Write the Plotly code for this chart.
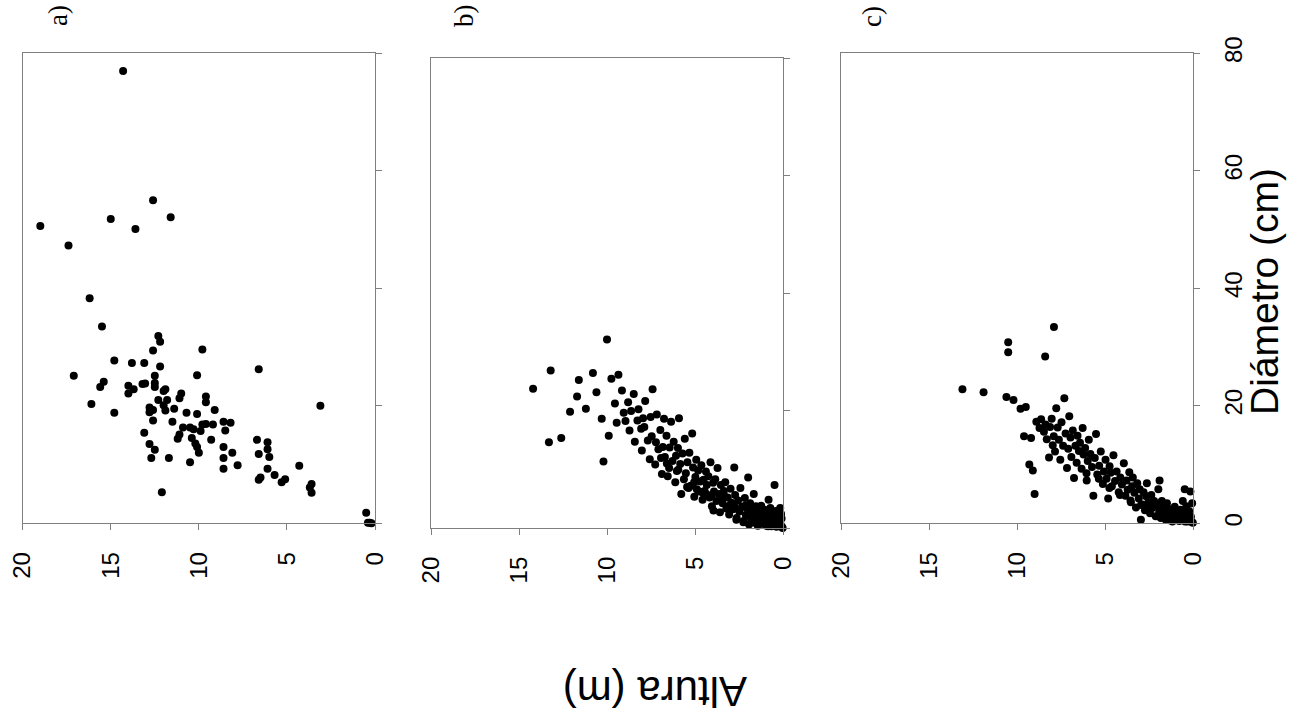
import plotly.graph_objects as go

W, H = 1310, 724

# ---------------- data: (Altura m, Diámetro cm) ----------------
a_altura = [14.3, 19.0, 17.4, 15.0, 12.6, 11.6, 13.6, 16.2, 15.5, 17.1, 14.8, 13.8, 13.1, 12.6,
            12.3, 12.2, 9.8, 12.2, 12.5, 10.1, 6.6, 3.1, 15.4, 15.6, 16.1, 14.8, 14.0, 14.0,
            13.7, 13.2, 13.05, 12.5, 12.5, 12.0, 11.9, 12.3, 11.8, 12.0, 11.9, 12.8, 12.6, 12.8,
            11.4, 11.1, 11.0, 10.7, 10.1, 9.6, 9.6, 9.1, 12.6, 11.5, 13.1, 10.9, 11.1, 11.2,
            10.5, 10.3, 10.4, 9.9, 9.8, 9.6, 9.2, 8.6, 8.2, 8.5, 9.3, 10.2, 10.1, 10.0, 10.5,
            12.8, 12.5, 12.7, 11.7, 12.1, 8.6, 8.1, 8.6, 8.6, 7.8, 6.7, 6.1, 6.1, 6.0, 6.6,
            6.1, 6.5, 6.6, 5.7, 5.3, 5.1, 4.3, 3.6, 3.7, 3.6, 0.5, 0.4, 0.2, 0.3]
a_diametro = [77.0, 50.6, 47.3, 51.8, 55.0, 52.1, 50.1, 38.3, 33.5, 25.1, 27.7, 27.3, 27.3, 29.4,
              31.9, 30.9, 29.6, 26.7, 25.1, 25.2, 26.2, 20.0, 24.1, 23.2, 20.3, 18.8, 23.4, 22.1,
              22.8, 23.7, 23.8, 23.9, 23.2, 22.5, 22.8, 21.0, 21.0, 20.1, 19.2, 19.7, 19.3, 18.9,
              19.5, 21.3, 22.1, 18.8, 18.6, 21.6, 20.6, 19.3, 17.5, 17.3, 15.4, 16.3, 15.1, 14.4,
              16.3, 16.0, 14.5, 15.7, 16.8, 16.9, 16.8, 17.3, 17.1, 15.8, 14.2, 13.6, 13.0, 12.0,
              10.4, 13.5, 12.5, 11.1, 11.1, 5.3, 13.0, 12.0, 11.1, 9.3, 9.9, 14.2, 13.8, 12.6,
              11.3, 11.8, 9.3, 7.8, 7.4, 8.2, 7.0, 7.5, 9.8, 6.7, 6.1, 5.2, 1.8, 0.1, 0.0, 0.1]

b_altura = [14.2, 13.2, 13.3, 12.6, 12.1, 11.7, 11.6, 11.2, 10.8, 10.6, 10.3, 10.0, 10.2, 9.9,
            9.75, 9.55, 9.45, 9.35, 9.15, 9.05, 8.95, 8.8, 8.72, 8.63, 8.48, 8.42, 8.27, 8.21, 8.06, 8.02,
            7.95, 7.88, 7.83, 7.68, 7.57, 7.52, 7.46, 7.41, 7.26, 7.22, 7.17, 7.08, 6.97, 6.93, 6.88, 6.83,
            6.76, 6.71, 6.62, 6.55, 6.47, 6.44, 6.36, 6.28, 6.21, 6.12, 6.08, 6.03, 5.97, 5.91, 5.84, 5.78,
            5.71, 5.63, 5.58, 5.52, 5.43, 5.37, 5.32, 5.24, 5.16, 5.11, 5.04, 4.98, 4.93, 4.82, 4.77, 4.71,
            4.64, 4.57, 4.51, 4.46, 4.38, 4.33, 4.24, 4.17, 4.12, 4.04, 3.97, 3.92, 3.85, 3.78, 3.72, 3.64,
            3.58, 3.53, 3.43, 3.36, 3.28, 3.22, 3.14, 3.06, 2.98, 2.93, 2.84, 2.77, 2.72, 2.63, 2.55, 2.48,
            2.42, 2.33, 2.24, 2.17, 2.11, 2.04, 1.98, 1.93, 1.87, 1.82, 1.74, 1.66, 1.61, 1.54, 1.47, 1.43,
            1.38, 1.31, 1.24, 1.18, 1.12, 1.05, 0.98, 0.94, 0.87, 0.82, 0.76, 0.72, 0.66, 0.62, 0.57, 0.52,
            0.48, 0.45, 0.41, 0.37, 0.33, 0.28, 0.24, 0.19, 0.14, 0.11, 0.06, 0.16, 0.02, 0.31,
            5.45, 4.9, 4.35, 3.95, 3.5, 3.05, 2.65, 2.25, 1.85, 1.45, 1.15, 0.85, 0.55, 0.25,
            6.6, 5.95, 5.05, 4.55, 4.05, 3.35, 2.75, 2.15, 1.65, 1.25, 0.95, 0.65, 0.35, 0.08]
b_diametro = [23.7, 26.8, 14.6, 15.3, 19.8, 22.4, 25.2, 20.3, 26.4, 23.1, 18.6, 32.1, 11.3, 15.7,
              25.4, 21.2, 17.9, 26.1, 23.4, 19.6, 18.2, 21.4, 16.6, 19.9, 22.8, 14.7, 18.3, 20.2,
              16.9, 13.2, 18.7, 17.2, 21.6, 14.9, 11.7, 18.9, 15.6, 23.6, 10.8, 14.6, 19.3, 13.4,
              16.7, 11.9, 9.2, 13.8, 18.6, 12.1, 15.7, 8.8, 10.2, 13.7, 18.1, 11.4, 14.7, 7.8,
              12.3, 9.7, 13.6, 18.7, 10.9, 5.8, 12.7, 8.3, 15.2, 9.3, 11.2, 6.8, 12.8, 7.2,
              16.1, 10.3, 5.3, 8.7, 11.6, 9.8, 6.2, 7.9, 10.7, 4.8, 8.2, 6.3, 9.6, 7.3,
              8.8, 5.2, 11.2, 3.7, 7.7, 6.2, 8.3, 4.6, 10.2, 5.8, 2.7, 7.3, 4.2, 6.3,
              7.8, 3.3, 5.2, 2.3, 6.7, 4.3, 3.2, 10.3, 5.6, 1.7, 4.7, 2.8, 6.8, 3.6,
              1.2, 5.1, 2.2, 3.3, 8.6, 0.6, 4.2, 1.6, 2.7, 5.8, 0.9, 3.7, 2.0, 0.4,
              2.9, 1.3, 3.8, 2.1, 0.7, 3.1, 1.6, 0.4, 2.6, 4.8, 1.1, 3.4, 0.3, 1.9,
              2.5, 0.6, 7.3, 1.3, 2.9, 0.2, 1.9, 0.9, 1.4, 0.3, 0.6, 2.4, 0.2, 3.4, 0.0, 0.4,
              7.0, 6.6, 5.8, 3.0, 4.6, 3.8, 1.4, 1.0, 3.2, 2.4, 1.9, 0.3, 1.7, 1.2,
              11.0, 9.9, 7.8, 6.0, 5.4, 5.5, 3.6, 3.8, 2.8, 1.7, 2.1, 0.9, 1.0, 1.6]

c_altura = [13.1, 11.9, 10.5, 10.5, 7.9, 8.4, 10.6, 10.2, 9.8, 9.5, 9.6, 9.2, 9.3, 9.0,
            9.1, 8.9, 8.72, 8.63, 8.47, 8.38, 8.31, 8.18, 8.12, 8.03, 7.97, 7.91, 7.84, 7.77, 7.69,
            7.62, 7.54, 7.47, 7.38, 7.31, 7.24, 7.16, 7.09, 7.03, 6.96, 6.91, 6.83, 6.76, 6.68, 6.61,
            6.56, 6.48, 6.42, 6.33, 6.27, 6.22, 6.13, 6.04, 5.98, 5.92, 5.83, 5.74, 5.66, 5.58, 5.51,
            5.44, 5.33, 5.24, 5.12, 5.06, 4.97, 4.91, 4.82, 4.74, 4.68, 4.61, 4.52, 4.43, 4.34, 4.22,
            4.13, 4.04, 3.93, 3.84, 3.77, 3.71, 3.62, 3.53, 3.46, 3.42, 3.33, 3.24, 3.17, 3.08, 3.03,
            2.96, 2.88, 2.81, 2.73, 2.66, 2.62, 2.53, 2.44, 2.37, 2.32, 2.21, 2.12, 2.04, 1.97, 1.92,
            1.83, 1.77, 1.71, 1.63, 1.54, 1.48, 1.41, 1.32, 1.23, 1.17, 1.12, 1.04, 0.98, 0.91, 0.83,
            0.78, 0.71, 0.63, 0.58, 0.53, 0.47, 0.42, 0.38, 0.32, 0.27, 0.22, 0.18, 0.15, 0.12, 0.08,
            0.05, 0.01, 1.9, 6.05, 5.35, 4.75, 4.15, 3.55, 2.95, 2.45, 1.75, 1.35, 0.95, 0.45, 0.25]
c_diametro = [22.8, 22.3, 30.8, 29.1, 33.4, 28.4, 21.5, 21.0, 19.5, 19.8, 14.8, 14.5, 10.0, 5.0,
              9.0, 17.3, 16.2, 17.7, 15.6, 16.8, 14.3, 11.2, 16.4, 17.8, 13.3, 14.8, 12.2, 19.6,
              16.3, 14.2, 10.8, 17.2, 13.2, 21.3, 15.3, 9.4, 12.7, 18.2, 14.6, 11.3, 15.8, 7.7,
              13.2, 10.3, 14.9, 12.3, 13.7, 9.3, 16.2, 11.7, 12.8, 7.3, 10.6, 14.2, 11.8, 9.6,
              4.7, 11.1, 15.2, 8.3, 9.8, 12.2, 6.7, 8.8, 10.8, 7.6, 4.2, 9.7, 8.6, 6.3,
              11.6, 7.2, 8.8, 5.3, 7.8, 6.6, 10.2, 4.7, 7.3, 5.7, 8.7, 3.6, 6.3, 7.8,
              5.2, 2.7, 6.8, 4.2, 5.8, 0.6, 3.2, 5.3, 2.2, 4.6, 6.8, 3.6, 1.7, 4.8,
              2.6, 3.8, 1.2, 3.1, 5.8, 2.1, 0.9, 3.8, 1.6, 2.7, 0.6, 3.4, 1.9, 1.1,
              2.4, 0.3, 1.6, 2.8, 0.9, 2.1, 1.3, 0.4, 2.3, 1.1, 3.8, 0.6, 5.8, 1.7,
              2.9, 0.3, 1.3, 2.1, 0.7, 5.4, 1.1, 0.2, 3.4, 0.1, 7.3,
              8.5, 7.6, 6.0, 4.8, 3.9, 3.1, 2.8, 2.3, 0.5, 1.4, 0.3, 0.4]

x_ticks = [0, 5, 10, 15, 20]
y_ticks = [0, 20, 40, 60, 80]
panel_labels = ["a)", "b)", "c)"]

# ---------------- layout geometry (pixels) ----------------
panels = [  # left, right, top, bottom
    (22.7, 375.0, 53.3, 523.3),
    (431.0, 783.0, 58.0, 528.0),
    (841.0, 1193.0, 53.3, 523.3),
]
label_pos = [(58, 16), (464, 16), (872, 16)]

datasets = [(a_altura, a_diametro), (b_altura, b_diametro), (c_altura, c_diametro)]

fig = go.Figure()
AX = "#7f7f7f"
for i, ((hx, dy), (l, r, t, b)) in enumerate(zip(datasets, panels)):
    n = "" if i == 0 else str(i + 1)
    fig.add_trace(go.Scatter(
        x=hx, y=dy, mode="markers", xaxis="x" + n, yaxis="y" + n,
        marker=dict(color="black", size=8, line=dict(width=0)),
        cliponaxis=False, showlegend=False, hoverinfo="skip"))
    fig.layout["xaxis" + n] = dict(
        domain=[l / W, r / W], anchor="y" + n, range=[20, 0], automargin=False,
        tickvals=x_ticks, ticks="outside", ticklen=6, tickcolor=AX, tickwidth=1,
        showline=True, linecolor=AX, linewidth=1.3, mirror=True,
        showgrid=False, zeroline=False, tickangle=-90, ticklabelstandoff=12,
        tickfont=dict(family="Liberation Sans, Arial", size=24, color="black"))
    fig.layout["yaxis" + n] = dict(
        domain=[1 - b / H, 1 - t / H], anchor="x" + n, range=[0, 80], side="right",
        automargin=False,
        tickvals=y_ticks, ticks="outside", ticklen=6, tickcolor=AX, tickwidth=1,
        showline=True, linecolor=AX, linewidth=1.3, mirror=True,
        showgrid=False, zeroline=False, tickangle=-90, ticklabelstandoff=13,
        showticklabels=(i == 2),
        tickfont=dict(family="Liberation Sans, Arial", size=24, color="black"))
    lx, ly = label_pos[i]
    fig.add_annotation(text=panel_labels[i], x=lx / W, y=1 - ly / H, xref="paper", yref="paper",
                       showarrow=False, textangle=-90, xanchor="center", yanchor="middle",
                       font=dict(family="Liberation Serif, Times New Roman", size=27, color="black"))

fig.add_annotation(text="Altura (m)", x=655 / W, y=1 - 692 / H, xref="paper", yref="paper",
                   showarrow=False, textangle=180, xanchor="center", yanchor="middle",
                   font=dict(family="Liberation Sans, Arial", size=42, color="black"))
fig.add_annotation(text="Diámetro (cm)", x=1264 / W, y=1 - 292 / H, xref="paper", yref="paper",
                   showarrow=False, textangle=-90, xanchor="center", yanchor="middle",
                   font=dict(family="Liberation Sans, Arial", size=39, color="black"))

fig.update_layout(width=W, height=H, margin=dict(l=0, r=0, t=0, b=0),
                  paper_bgcolor="white", plot_bgcolor="white")
fig.write_html("out.html", include_plotlyjs=True, full_html=True)
